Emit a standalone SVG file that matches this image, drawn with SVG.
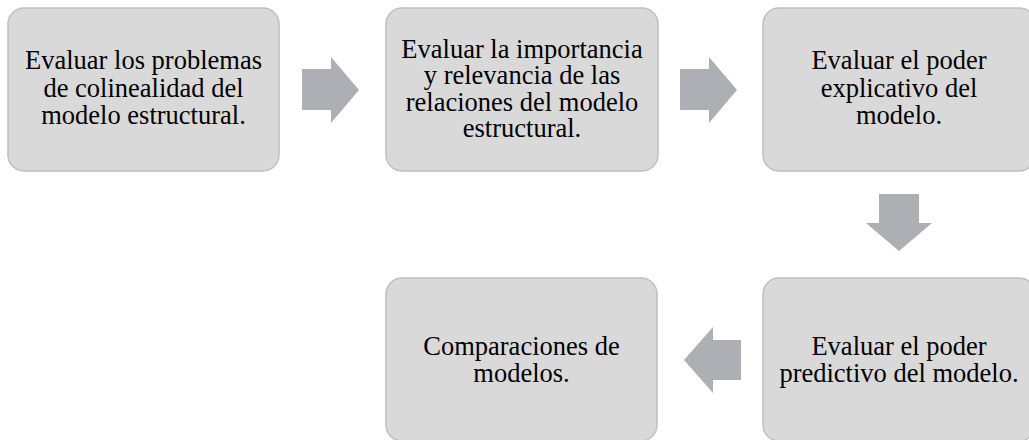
<svg xmlns="http://www.w3.org/2000/svg" width="1029" height="440" viewBox="0 0 1029 440">
<style>
.box{fill:#d9d9d9;stroke:#bfbfbf;stroke-width:1.5}
.arr{fill:#adafb5}
text{font-family:"Liberation Serif","Times New Roman",serif;font-size:26.5px;fill:#000;text-anchor:middle}
</style>
<rect width="1029" height="440" fill="#fff"/>
<g id="connectors">
<path class="arr" d="M302,69 H331 V57 L359,90 L331,123 V110 H302 Z"/>
<path class="arr" d="M680,69 H709 V57 L737,90 L709,123 V110 H680 Z"/>
<path class="arr" d="M879,194 H919 V223 H932 L899,251 L866,223 H879 Z"/>
<path class="arr" d="M741,340 H713 V327 L684,360 L713,393 V380 H741 Z"/>
</g>
<g id="n1">
<rect class="box" x="8" y="8" width="271" height="163" rx="16"/>
<text x="143.5" y="69">Evaluar los problemas</text>
<text x="143.5" y="96.5">de colinealidad del</text>
<text x="143.5" y="123.5">modelo estructural.</text>
</g>
<g id="n2">
<rect class="box" x="386" y="8" width="272" height="163" rx="16"/>
<text x="522" y="57.5">Evaluar la importancia</text>
<text x="522" y="84">y relevancia de las</text>
<text x="522" y="110.5">relaciones del modelo</text>
<text x="522" y="137">estructural.</text>
</g>
<g id="n3">
<rect class="box" x="763" y="8" width="272" height="163" rx="16"/>
<text x="899" y="69">Evaluar el poder</text>
<text x="899" y="96.5">explicativo del</text>
<text x="899" y="123.5">modelo.</text>
</g>
<g id="n4">
<rect class="box" x="763" y="278" width="272" height="163" rx="16"/>
<text x="899" y="355">Evaluar el poder</text>
<text x="899" y="381.5">predictivo del modelo.</text>
</g>
<g id="n5">
<rect class="box" x="386" y="278" width="271" height="163" rx="16"/>
<text x="521.5" y="355">Comparaciones de</text>
<text x="521.5" y="381.5">modelos.</text>
</g>
</svg>
